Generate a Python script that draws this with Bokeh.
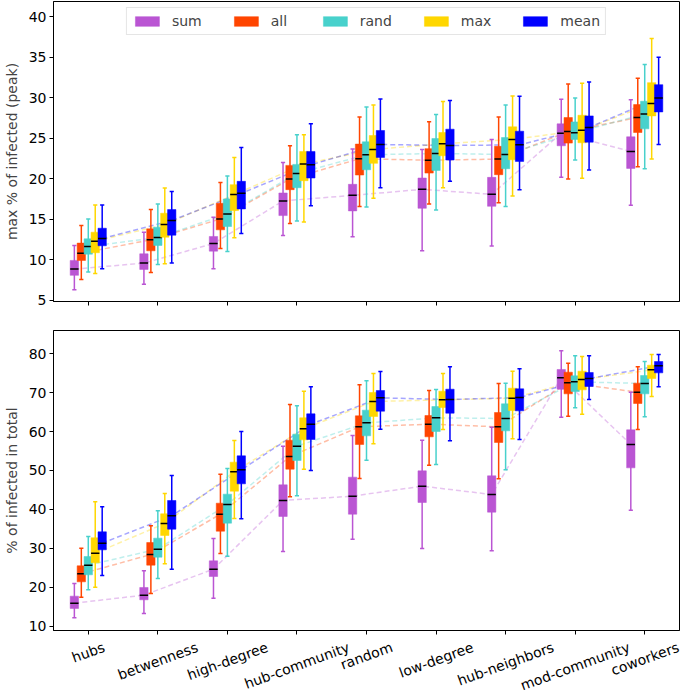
import math
from bokeh.plotting import figure
from bokeh.models import (ColumnDataSource, Range1d, Legend, LegendItem,
                          FixedTicker, LinearAxis)
from bokeh.transform import dodge
from bokeh.layouts import column
from bokeh.embed import file_html
from bokeh.resources import INLINE

categories = ["hubs", "betwenness", "high-degree", "hub-community", "random",
              "low-degree", "hub-neighbors", "mod-community", "coworkers"]
series_names = ["sum", "all", "rand", "max", "mean"]
series_colors = ["#BA55D3", "#FF4500", "#48D1CC", "#FFD700", "#0000FF"]

# (whisker low, Q1, median, Q3, whisker high) per category
peak_sum = [(6.31, 8.08, 8.85, 9.92, 11.77), (6.97, 8.81, 9.59, 10.74, 13.41),
            (8.9, 11.07, 12.01, 12.88, 15.26), (13.0, 15.46, 17.27, 18.25, 22.03),
            (12.84, 16.04, 17.96, 19.32, 23.67), (11.11, 16.36, 18.7, 20.1, 23.63),
            (11.69, 16.61, 18.09, 20.18, 24.86), (20.18, 24.08, 25.64, 26.79, 29.82),
            (16.73, 21.29, 23.38, 25.19, 29.78)]
peak_all = [(7.58, 9.92, 10.82, 12.06, 14.23), (8.44, 11.11, 12.47, 13.82, 16.2),
            (11.4, 13.7, 15.05, 16.98, 19.56), (14.48, 18.66, 19.98, 21.66, 24.08),
            (16.57, 20.47, 22.48, 24.29, 27.65), (16.9, 20.71, 22.3, 23.73, 27.05),
            (17.06, 20.51, 22.44, 24.01, 27.65), (19.98, 24.41, 25.84, 27.57, 31.71),
            (21.49, 25.72, 27.57, 29.17, 32.41)]
peak_rand = [(8.5, 10.7, 11.65, 12.59, 15.05), (9.43, 11.77, 12.75, 14.03, 16.9),
             (11.03, 14.11, 15.67, 17.51, 20.34), (14.8, 18.9, 20.67, 21.78, 25.43),
             (16.53, 21.12, 22.97, 24.57, 28.88), (16.16, 21.04, 23.13, 24.98, 27.94),
             (16.57, 21.25, 23.01, 25.1, 29.13), (22.32, 24.86, 25.68, 27.03, 29.99),
             (21.25, 26.17, 28.02, 29.58, 34.13)]
peak_max = [(8.32, 10.87, 12.3, 13.41, 16.77), (9.51, 12.79, 14.35, 15.75, 18.87),
            (12.71, 16.08, 18.05, 19.28, 22.64), (14.68, 19.77, 21.82, 23.38, 25.43),
            (17.6, 21.91, 23.63, 25.35, 29.13), (18.91, 22.85, 24.32, 25.72, 29.54),
            (17.88, 22.36, 24.86, 26.42, 30.23), (20.06, 24.45, 26.0, 27.85, 31.79),
            (22.44, 27.77, 29.29, 31.88, 37.33)]
peak_mean = [(8.9, 11.73, 12.63, 13.9, 16.77), (9.59, 13.04, 14.85, 16.2, 18.42),
             (13.25, 16.28, 18.21, 19.69, 23.87), (16.69, 20.1, 21.74, 23.38, 26.79),
             (18.91, 22.64, 24.24, 25.97, 29.86), (19.69, 22.32, 24.12, 26.13, 29.66),
             (18.66, 22.15, 24.2, 25.88, 30.19), (21.08, 24.53, 26.34, 27.77, 31.96),
             (24.24, 28.26, 29.99, 31.63, 35.0)]

total_sum = [(12.22, 14.62, 15.98, 17.78, 21.03), (13.33, 16.84, 18.03, 20.0, 24.27),
             (17.26, 22.82, 24.7, 26.84, 32.56), (29.23, 38.21, 42.31, 46.32, 56.24),
             (32.39, 38.8, 43.42, 48.29, 58.97), (30.0, 41.79, 45.98, 49.91, 57.78),
             (29.4, 39.32, 43.85, 48.63, 61.11), (63.68, 70.85, 73.76, 75.9, 80.68),
             (39.83, 50.68, 56.67, 60.43, 70.09)]
total_all = [(17.52, 21.45, 23.5, 25.56, 30.09), (18.46, 25.73, 28.46, 31.54, 35.81),
             (28.72, 34.44, 38.8, 41.62, 49.06), (43.25, 50.34, 53.59, 57.78, 66.92),
             (47.95, 56.67, 61.2, 64.02, 71.97), (51.37, 58.63, 61.88, 64.1, 70.51),
             (47.86, 57.18, 61.2, 64.87, 72.31), (63.93, 69.66, 72.48, 75.21, 77.52),
             (60.51, 67.18, 70.09, 72.39, 76.58)]
total_rand = [(19.4, 23.25, 25.73, 27.95, 33.08), (22.31, 27.78, 29.83, 32.65, 39.66),
              (28.03, 36.5, 41.28, 43.93, 50.51), (43.5, 52.56, 56.24, 59.32, 66.58),
              (52.65, 58.89, 62.22, 65.47, 72.99), (51.54, 60.0, 63.5, 66.41, 70.77),
              (50.17, 60.17, 63.33, 67.09, 72.39), (66.07, 70.26, 72.74, 74.27, 79.4),
              (63.76, 69.66, 72.31, 74.36, 77.95)]
total_max = [(20.09, 26.32, 28.8, 32.74, 41.97), (26.07, 33.33, 36.41, 38.89, 44.1),
             (37.69, 44.7, 49.66, 52.14, 57.69), (50.34, 57.86, 60.68, 63.5, 70.34),
             (56.84, 63.85, 67.69, 70.0, 74.87), (60.51, 66.15, 68.12, 70.34, 74.87),
             (58.12, 65.38, 68.55, 71.11, 75.47), (64.44, 70.68, 73.33, 75.47, 79.23),
             (68.97, 73.59, 75.81, 77.01, 79.74)]
total_mean = [(23.08, 29.66, 31.37, 34.27, 40.68), (24.7, 34.96, 38.38, 42.31, 48.72),
              (37.61, 46.58, 50.17, 53.76, 60.0), (50.0, 57.95, 61.88, 64.53, 71.45),
              (60.6, 65.21, 68.63, 70.51, 75.38), (57.61, 64.7, 68.21, 70.85, 76.58),
              (57.95, 65.3, 68.72, 70.94, 76.07), (68.21, 71.54, 73.59, 75.13, 79.4),
              (71.45, 75.04, 76.84, 77.95, 79.74)]

peak_ticks = [5, 10, 15, 20, 25, 30, 35, 40]
total_ticks = [10, 20, 30, 40, 50, 60, 70, 80]

FONT = "DejaVu Sans"
FONT_PX = 14
FRAME_W = 626
FRAME_H = 300
offsets = [-0.2, -0.1, 0.0, 0.1, 0.2]
BOX_W = 0.12
LABEL_ANGLE = math.radians(20)

# category slots on a numeric x axis (one unit per category, centred on i + 0.5)
N = len(categories)
cat_x = [i + 0.5 for i in range(N)]

# approximate DejaVu Sans advance widths (em), used to centre the rotated labels on their ticks
_CW = {"a": .613, "b": .635, "c": .550, "d": .635, "e": .615, "g": .635, "h": .634,
       "i": .278, "k": .579, "l": .278, "m": .974, "n": .634, "o": .612, "r": .411,
       "s": .521, "t": .392, "u": .634, "w": .818, "y": .592, "-": .361}


def text_w(s):
    return sum(_CW.get(ch, .6) for ch in s) * FONT_PX


def make_panel(panel_stats, y0, y1, ticks, ylabel, bottom, with_legend):
    p = figure(x_range=Range1d(0, N), y_range=Range1d(y0, y1),
               frame_width=FRAME_W, frame_height=FRAME_H,
               output_backend="svg", toolbar_location=None,
               min_border_left=49, min_border_right=8,
               min_border_top=1 if not bottom else 3,
               min_border_bottom=26 if not bottom else 10)
    p.grid.visible = False
    p.outline_line_color = "black"
    p.outline_line_alpha = 1
    p.background_fill_color = "white"
    for ax in (p.xaxis[0], p.yaxis[0]):
        ax.major_tick_out = 4
        ax.major_tick_in = 0
        ax.minor_tick_line_color = None
        ax.axis_line_color = "black"
        ax.major_tick_line_color = "black"
        ax.major_label_text_font = FONT
        ax.major_label_text_font_size = f"{FONT_PX}px"
        ax.major_label_text_color = "black"
        ax.major_label_standoff = 3
    # this x axis only carries the tick marks
    p.xaxis.ticker = FixedTicker(ticks=cat_x)
    p.xaxis.major_label_text_color = None
    p.xaxis.major_label_text_font_size = "0px"
    p.yaxis.ticker = FixedTicker(ticks=ticks)
    p.yaxis.axis_label = ylabel
    p.yaxis.axis_label_text_font = FONT
    p.yaxis.axis_label_text_font_size = f"{FONT_PX}px"
    p.yaxis.axis_label_text_font_style = "normal"
    p.yaxis.axis_label_standoff = 6

    sources = []
    for stats in panel_stats:
        lo, q1, med, q3, hi = zip(*stats)
        sources.append(ColumnDataSource(dict(x=cat_x, cat=categories, lo=lo, q1=q1,
                                             med=med, q3=q3, hi=hi)))

    # dashed lines through medians
    for src, off, col in zip(sources, offsets, series_colors):
        p.line(x=dodge("x", off), y="med", source=src,
               line_color=col, line_alpha=0.35, line_width=1.5, line_dash="5 3")

    items = []
    for name, src, off, col in zip(series_names, sources, offsets, series_colors):
        p.segment(x0=dodge("x", off), y0="lo", x1=dodge("x", off), y1="hi", source=src,
                  line_color=col, line_width=1.5)
        for fld in ("lo", "hi"):
            p.segment(x0=dodge("x", off - BOX_W / 4), y0=fld,
                      x1=dodge("x", off + BOX_W / 4), y1=fld, source=src,
                      line_color=col, line_width=1.5)
        r = p.vbar(x=dodge("x", off), width=BOX_W, top="q3", bottom="q1",
                   source=src, fill_color=col, line_color=col, line_alpha=0.5, line_width=1)
        p.segment(x0=dodge("x", off - BOX_W / 2), y0="med",
                  x1=dodge("x", off + BOX_W / 2), y1="med", source=src,
                  line_color="black", line_width=1.5)
        items.append(LegendItem(label=name, renderers=[r]))

    if with_legend:
        leg = Legend(items=items, orientation="horizontal", location="top_center",
                     margin=6, padding=5, spacing=29, glyph_width=30, glyph_height=12,
                     label_standoff=10, label_height=15,
                     label_text_font=FONT, label_text_font_size=f"{FONT_PX}px",
                     border_line_color="#cccccc", border_line_width=1,
                     background_fill_alpha=0.8)
        p.add_layout(leg)

    if bottom:
        # label axis: rotated category names; Bokeh ends a rotated label at its tick,
        # so each tick is moved right by half the label's run to centre the text on the slot
        unit_px = FRAME_W / N
        pos = [round(x + (text_w(c) / 2) * math.cos(LABEL_ANGLE) / unit_px, 4)
               for x, c in zip(cat_x, categories)]
        lab_axis = LinearAxis(ticker=FixedTicker(ticks=pos),
                              major_label_overrides={v: c for v, c in zip(pos, categories)})
        lab_axis.axis_line_color = None
        lab_axis.major_tick_line_color = None
        lab_axis.minor_tick_line_color = None
        lab_axis.major_tick_out = 0
        lab_axis.major_tick_in = 0
        lab_axis.major_label_standoff = 12
        lab_axis.major_label_orientation = LABEL_ANGLE
        lab_axis.major_label_text_font = FONT
        lab_axis.major_label_text_font_size = f"{FONT_PX}px"
        lab_axis.major_label_text_color = "black"
        p.add_layout(lab_axis, "below")
    return p


p1 = make_panel([peak_sum, peak_all, peak_rand, peak_max, peak_mean], 4.85, 41.9,
                peak_ticks, "max % of infected (peak)", False, True)
p2 = make_panel([total_sum, total_all, total_rand, total_max, total_mean], 8.97, 85.9,
                total_ticks, "% of infected in total", True, False)

layout = column(p1, p2, spacing=0)
open("out.html", "w").write(file_html(layout, INLINE))
